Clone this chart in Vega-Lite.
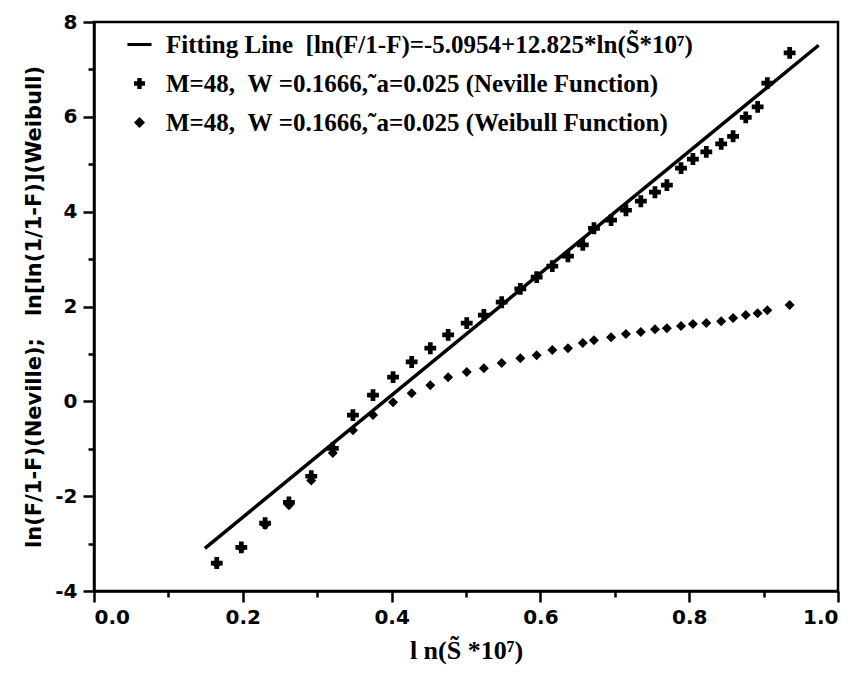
{
  "$schema": "https://vega.github.io/schema/vega-lite/v6.json",
  "width": 744,
  "height": 569,
  "autosize": {"type": "none"},
  "padding": {"left": 94, "top": 22, "right": 24, "bottom": 89},
  "background": "white",
  "config": {
    "view": {"stroke": "black", "strokeWidth": 2.5},
    "axis": {
      "domainColor": "black", "domainWidth": 2.5, "tickColor": "black", "tickWidth": 2.5,
      "labelColor": "black", "labelFont": "DejaVu Sans", "labelFontWeight": "bold", "labelFontSize": 20,
      "titleColor": "black", "grid": false
    },
    "legend": {
      "labelFont": "Liberation Serif", "labelFontWeight": "bold", "labelFontSize": 25, "labelColor": "black",
      "labelLimit": 0, "symbolStrokeWidth": 0, "symbolFillColor": "black", "labelOffset": 14, "rowPadding": 13, "padding": 0
    }
  },
  "datasets": {
    "fit": [{"x": 0.149, "y": -3.10}, {"x": 0.974, "y": 7.51}],
    "pts": [
      {"series": "N", "x": 0.165, "y": -3.41},
      {"series": "N", "x": 0.198, "y": -3.08},
      {"series": "N", "x": 0.230, "y": -2.57},
      {"series": "N", "x": 0.262, "y": -2.13},
      {"series": "N", "x": 0.292, "y": -1.58},
      {"series": "N", "x": 0.321, "y": -0.99},
      {"series": "N", "x": 0.348, "y": -0.29},
      {"series": "N", "x": 0.375, "y": 0.13},
      {"series": "N", "x": 0.402, "y": 0.51},
      {"series": "N", "x": 0.427, "y": 0.83},
      {"series": "N", "x": 0.452, "y": 1.12},
      {"series": "N", "x": 0.476, "y": 1.40},
      {"series": "N", "x": 0.501, "y": 1.65},
      {"series": "N", "x": 0.524, "y": 1.82},
      {"series": "N", "x": 0.548, "y": 2.09},
      {"series": "N", "x": 0.573, "y": 2.37},
      {"series": "N", "x": 0.595, "y": 2.62},
      {"series": "N", "x": 0.616, "y": 2.85},
      {"series": "N", "x": 0.637, "y": 3.06},
      {"series": "N", "x": 0.657, "y": 3.30},
      {"series": "N", "x": 0.672, "y": 3.65},
      {"series": "N", "x": 0.695, "y": 3.82},
      {"series": "N", "x": 0.715, "y": 4.03},
      {"series": "N", "x": 0.735, "y": 4.22},
      {"series": "N", "x": 0.754, "y": 4.41},
      {"series": "N", "x": 0.770, "y": 4.56},
      {"series": "N", "x": 0.789, "y": 4.92},
      {"series": "N", "x": 0.805, "y": 5.11},
      {"series": "N", "x": 0.823, "y": 5.26},
      {"series": "N", "x": 0.843, "y": 5.43},
      {"series": "N", "x": 0.859, "y": 5.59},
      {"series": "N", "x": 0.876, "y": 5.99},
      {"series": "N", "x": 0.892, "y": 6.21},
      {"series": "N", "x": 0.905, "y": 6.71},
      {"series": "N", "x": 0.935, "y": 7.35},
      {"series": "W", "x": 0.165, "y": -3.43},
      {"series": "W", "x": 0.198, "y": -3.10},
      {"series": "W", "x": 0.230, "y": -2.61},
      {"series": "W", "x": 0.262, "y": -2.19},
      {"series": "W", "x": 0.292, "y": -1.67},
      {"series": "W", "x": 0.321, "y": -1.09},
      {"series": "W", "x": 0.348, "y": -0.61},
      {"series": "W", "x": 0.375, "y": -0.29},
      {"series": "W", "x": 0.402, "y": -0.02},
      {"series": "W", "x": 0.427, "y": 0.17},
      {"series": "W", "x": 0.452, "y": 0.34},
      {"series": "W", "x": 0.476, "y": 0.51},
      {"series": "W", "x": 0.501, "y": 0.62},
      {"series": "W", "x": 0.524, "y": 0.70},
      {"series": "W", "x": 0.548, "y": 0.81},
      {"series": "W", "x": 0.573, "y": 0.91},
      {"series": "W", "x": 0.595, "y": 0.97},
      {"series": "W", "x": 0.616, "y": 1.08},
      {"series": "W", "x": 0.637, "y": 1.12},
      {"series": "W", "x": 0.657, "y": 1.23},
      {"series": "W", "x": 0.672, "y": 1.29},
      {"series": "W", "x": 0.695, "y": 1.35},
      {"series": "W", "x": 0.715, "y": 1.42},
      {"series": "W", "x": 0.735, "y": 1.46},
      {"series": "W", "x": 0.754, "y": 1.52},
      {"series": "W", "x": 0.770, "y": 1.54},
      {"series": "W", "x": 0.789, "y": 1.59},
      {"series": "W", "x": 0.805, "y": 1.63},
      {"series": "W", "x": 0.823, "y": 1.65},
      {"series": "W", "x": 0.843, "y": 1.69},
      {"series": "W", "x": 0.859, "y": 1.76},
      {"series": "W", "x": 0.876, "y": 1.82},
      {"series": "W", "x": 0.892, "y": 1.86},
      {"series": "W", "x": 0.905, "y": 1.92},
      {"series": "W", "x": 0.935, "y": 2.03}
    ]
  },
  "layer": [
    {
      "data": {"name": "fit"},
      "mark": {"type": "line", "color": "black", "strokeWidth": 3.5},
      "encoding": {
        "x": {
          "field": "x", "type": "quantitative",
          "scale": {"domain": [0, 1], "nice": false, "zero": false},
          "axis": {
            "values": [0, 0.1, 0.2, 0.3, 0.4, 0.5, 0.6, 0.7, 0.8, 0.9, 1.0],
            "format": ".1f",
            "labelExpr": "round(datum.value*10) % 2 == 0 ? datum.label : ''",
            "tickSize": {"condition": {"test": "round(datum.value*10) % 2 == 0", "value": 11}, "value": 6},
            "labelPadding": 5,
            "title": "l n(S̃ *10⁷)",
            "titleFont": "Liberation Serif", "titleFontWeight": "bold", "titleFontSize": 26, "titlePadding": 10
          }
        },
        "y": {
          "field": "y", "type": "quantitative",
          "scale": {"domain": [-4, 8], "nice": false, "zero": false},
          "axis": {
            "values": [-4, -3, -2, -1, 0, 1, 2, 3, 4, 5, 6, 7, 8],
            "format": "d",
            "labelExpr": "datum.value % 2 == 0 ? replace(datum.label, '−', '-') : ''",
            "tickSize": {"condition": {"test": "datum.value % 2 == 0", "value": 11}, "value": 6},
            "labelPadding": 6,
            "title": "ln(F/1-F)(Neville);\u00a0\u00a0\u00a0ln[ln(1/1-F)](Weibull)",
            "titleFont": "DejaVu Sans", "titleFontWeight": "bold", "titleFontSize": 21, "titlePadding": 10
          }
        }
      }
    },
    {
      "data": {"name": "pts"},
      "mark": {"type": "point", "filled": true, "color": "black", "opacity": 1},
      "encoding": {
        "x": {"field": "x", "type": "quantitative"},
        "y": {"field": "y", "type": "quantitative"},
        "shape": {
          "field": "series", "type": "nominal",
          "scale": {
            "domain": ["F", "N", "W"],
            "range": ["M-2.2,-0.28H2.2V0.28H-2.2Z", "cross", "diamond"]
          },
          "legend": {
            "title": null, "orient": "none", "legendX": 33, "legendY": 10, "symbolSize": 120,
            "labelExpr": "datum.value == 'F' ? 'Fitting Line\u00a0\u00a0[ln(F/1-F)=-5.0954+12.825*ln(S̃*10⁷)' : datum.value == 'N' ? 'M=48,\u00a0\u00a0W\u00a0=0.1666,˜a=0.025 (Neville Function)' : 'M=48,\u00a0\u00a0W\u00a0=0.1666,˜a=0.025 (Weibull Function)'"
          }
        },
        "size": {"condition": {"test": "datum.series == 'N'", "value": 140}, "value": 100}
      }
    }
  ]
}
